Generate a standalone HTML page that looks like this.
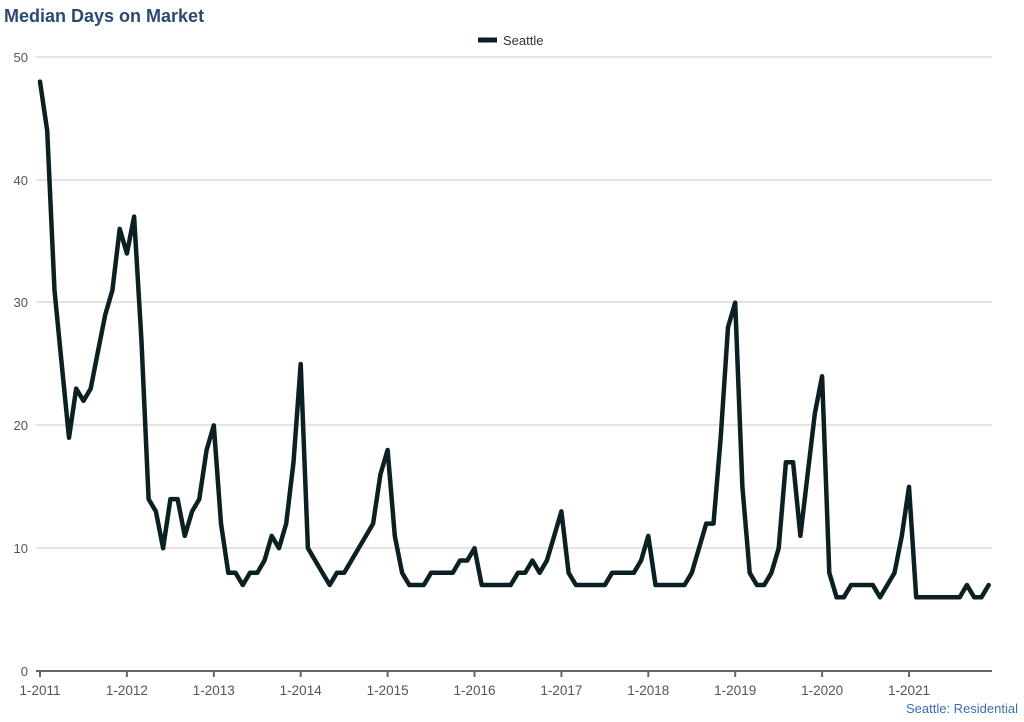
<!DOCTYPE html>
<html><head><meta charset="utf-8"><style>
html,body{margin:0;padding:0;background:#fff;}
svg{display:block;font-family:"Liberation Sans",Arial,sans-serif;}
</style></head><body>
<svg id="c" width="1024" height="722" viewBox="0 0 1024 722">
<text x="4" y="22" font-size="18" font-weight="bold" fill="#2b4a6f">Median Days on Market</text>
<line x1="478" y1="40" x2="497" y2="40" stroke="#0a2023" stroke-width="5"/>
<text x="503" y="45" font-size="13" fill="#333">Seattle</text>
<g stroke="#c8c8c8" stroke-width="1">
<line x1="36" y1="57" x2="992" y2="57"/>
<line x1="36" y1="180" x2="992" y2="180"/>
<line x1="36" y1="302" x2="992" y2="302"/>
<line x1="36" y1="425" x2="992" y2="425"/>
<line x1="36" y1="548" x2="992" y2="548"/>
</g>
<line x1="36" y1="671" x2="992" y2="671" stroke="#666" stroke-width="2"/>
<g font-size="13" fill="#555" text-anchor="end">
<text x="28" y="62">50</text><text x="28" y="185">40</text><text x="28" y="307">30</text>
<text x="28" y="430">20</text><text x="28" y="553">10</text><text x="28" y="676">0</text>
</g>
<g id="xt" font-size="13.5" fill="#555" text-anchor="middle"></g>
<polyline id="ln" fill="none" stroke="#0a2023" stroke-width="4.5" stroke-linejoin="round" stroke-linecap="round"/>
<text x="1018" y="713" font-size="13" fill="#3a6fb0" text-anchor="end">Seattle: Residential</text>
</svg>
<script>
var d=[48,44,31,25,19,23,22,23,26,29,31,36,
34,37,27,14,13,10,14,14,11,13,14,18,
20,12,8,8,7,8,8,9,11,10,12,17,
25,10,9,8,7,8,8,9,10,11,12,16,
18,11,8,7,7,7,8,8,8,8,9,9,
10,7,7,7,7,7,8,8,9,8,9,11,
13,8,7,7,7,7,7,8,8,8,8,9,
11,7,7,7,7,7,8,10,12,12,19,28,
30,15,8,7,7,8,10,17,17,11,16,21,
24,8,6,6,7,7,7,7,6,7,8,11,
15,6,6,6,6,6,6,6,7,6,6,7];
var x0=40,dx=86.9/12,y0=671,dy=12.28,p=[];
d.forEach(function(v,i){p.push((x0+i*dx).toFixed(1)+","+(y0-v*dy).toFixed(1));});
document.getElementById("ln").setAttribute("points",p.join(" "));
var ns="http://www.w3.org/2000/svg",g=document.getElementById("xt");
for(var k=0;k<132;k+=12){var x=x0+k*dx;
var l=document.createElementNS(ns,"line");l.setAttribute("x1",x);l.setAttribute("x2",x);l.setAttribute("y1",671);l.setAttribute("y2",677);l.setAttribute("stroke","#666");l.setAttribute("stroke-width","2");g.appendChild(l);
var t=document.createElementNS(ns,"text");t.setAttribute("x",x);t.setAttribute("y",695);t.textContent="1-"+(2011+k/12);g.appendChild(t);}
</script>
</body></html>
